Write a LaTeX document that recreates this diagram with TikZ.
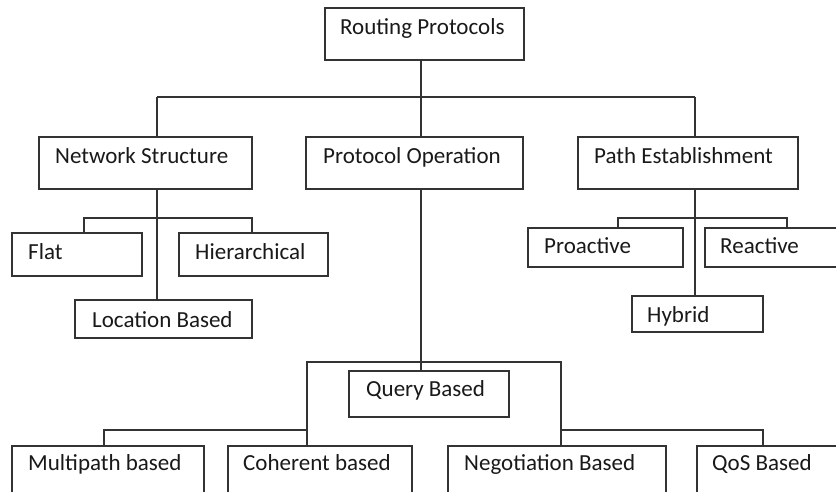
\documentclass[tikz,border=0pt]{standalone}
\usepackage{fontspec}
\setmainfont{Carlito}
\begin{document}
\begin{tikzpicture}[x=1pt,y=-1pt,
  box/.style={draw=black!80, line width=1.5pt, rectangle, inner sep=0pt, fill=white},
  lbl/.style={anchor=base west, inner sep=0pt, text=black!90, font=\fontsize{23}{25}\selectfont},
  con/.style={draw=black!80, line width=1.5pt}]
\useasboundingbox (0,0) rectangle (836,492);
\clip (0,0) rectangle (836,492);
\fill[white] (0,0) rectangle (836,492);
% boxes
\node[box, minimum width=199pt, minimum height=52pt] (root) at (424.5,34) {};
\node[box, minimum width=213pt, minimum height=52pt] (ns) at (145.5,163) {};
\node[box, minimum width=217pt, minimum height=52pt] (po) at (414.5,163) {};
\node[box, minimum width=220pt, minimum height=52pt] (pe) at (688,163) {};
\node[box, minimum width=130pt, minimum height=43pt] (flat) at (77,254.5) {};
\node[box, minimum width=149pt, minimum height=43pt] (hier) at (253.5,254.5) {};
\node[box, minimum width=177pt, minimum height=38pt] (loc) at (163.5,319) {};
\node[box, minimum width=155pt, minimum height=39pt] (pro) at (605.5,247.5) {};
\node[box, minimum width=155pt, minimum height=39pt] (rea) at (782.5,247.5) {};
\node[box, minimum width=131pt, minimum height=36pt] (hyb) at (697.5,314) {};
\node[box, minimum width=160pt, minimum height=46pt] (qb) at (429,394) {};
\node[box, minimum width=192pt, minimum height=54pt] (mp) at (108,473) {};
\node[box, minimum width=184pt, minimum height=54pt] (coh) at (320,473) {};
\node[box, minimum width=218pt, minimum height=54pt] (neg) at (557,473) {};
\node[box, minimum width=163pt, minimum height=54pt] (qos) at (778.5,473) {};
% labels (baseline positions)
\node[lbl] (root-t) at (340,35) {Routing Protocols};
\node[lbl] (ns-t) at (55,164) {Network Structure};
\node[lbl] (po-t) at (323,164) {Protocol Operation};
\node[lbl] (pe-t) at (594,164) {Path Establishment};
\node[lbl] (flat-t) at (28,259) {Flat};
\node[lbl] (hier-t) at (195,259) {Hierarchical};
\node[lbl] (loc-t) at (92,327) {Location Based};
\node[lbl] (pro-t) at (544,254) {Proactive};
\node[lbl] (rea-t) at (720,254) {Reactive};
\node[lbl] (hyb-t) at (647,322) {Hybrid};
\node[lbl] (qb-t) at (366,396) {Query Based};
\node[lbl] (mp-t) at (28,470) {Multipath based};
\node[lbl] (coh-t) at (243,470) {Coherent based};
\node[lbl] (neg-t) at (464,470) {Negotiation Based};
\node[lbl] (qos-t) at (712,470) {QoS Based};
% junction coordinates
\coordinate (busL) at (157,97);
\coordinate (busM) at (421,97);
\coordinate (busR) at (695,97);
\coordinate (fb) at (84,218);
\coordinate (hb) at (252,218);
\coordinate (pb) at (618,218);
\coordinate (rb) at (787,218);
\coordinate (qL) at (307,362);
\coordinate (qR) at (561,362);
\coordinate (mb) at (104,430);
\coordinate (sb) at (763,430);
% connectors
\draw[con] (busM |- root.south) -- (busM);
\draw[con] (busL) -- (busR);
\draw[con] (busL) -- (busL |- ns.north);
\draw[con] (busM) -- (busM |- po.north);
\draw[con] (busR) -- (busR |- pe.north);
\draw[con] (busL |- ns.south) -- (busL |- loc.north);
\draw[con] (fb |- flat.north) -- (fb) -- (hb) -- (hb |- hier.north);
\draw[con] (busR |- pe.south) -- (busR |- hyb.north);
\draw[con] (pb |- pro.north) -- (pb) -- (rb) -- (rb |- rea.north);
\draw[con] (busM |- po.south) -- (busM |- qb.north);
\draw[con] (qL |- coh.north) -- (qL) -- (qR) -- (qR |- neg.north);
\draw[con] (mb |- mp.north) -- (mb) -- (mb -| qL);
\draw[con] (qR |- sb) -- (sb) -- (sb |- qos.north);
\end{tikzpicture}
\end{document}
